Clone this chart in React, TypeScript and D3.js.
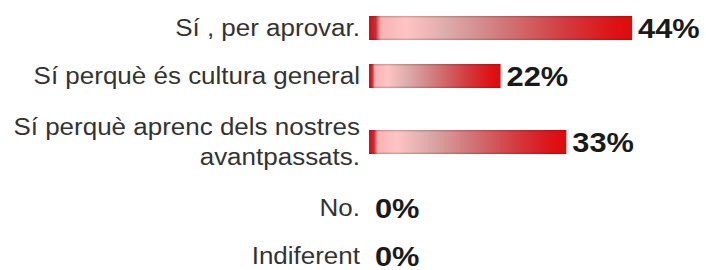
import { useEffect, useRef } from "react";
import * as d3 from "d3";

// Survey answers and their shares (percent)
const answers: string[][] = [
  ["Sí , per aprovar."],
  ["Sí perquè és cultura general"],
  ["Sí perquè aprenc dels nostres", "avantpassats."],
  ["No."],
  ["Indiferent"],
];
const shares: number[] = [44, 22, 33, 0, 0];

const W = 706;
const H = 270;
const LABEL_RIGHT = 360;
const BAR_LEFT = 369;
const ROW_H = 48;
const EXTRA_LINE_ROW = 36;
const LINE_H = 30;
const BAR_H = 24;
const TOP = 4;
const STRETCH = 1.13; // the glyphs in the original are a little wide

export default function App() {
  const svgRef = useRef<SVGSVGElement>(null);

  useEffect(() => {
    if (!svgRef.current) return;
    const svg = d3.select(svgRef.current);
    svg.selectAll("*").remove();

    const defs = svg.append("defs");
    const grad = defs
      .append("linearGradient")
      .attr("id", "barFill")
      .attr("x1", 0)
      .attr("x2", 1)
      .attr("y1", 0)
      .attr("y2", 0);
    [
      [0, "#c0141e"],
      [0.025, "#cc2a30"],
      [0.045, "#f7b3b3"],
      [0.14, "#ffc4c4"],
      [0.3, "#dcaaaa"],
      [0.5, "#d07a7c"],
      [0.75, "#d23a3e"],
      [0.92, "#dc1418"],
      [1, "#e00a0a"],
    ].forEach(([o, c]) =>
      grad.append("stop").attr("offset", o as number).attr("stop-color", c as string)
    );

    const vgrad = defs
      .append("linearGradient")
      .attr("id", "barShade")
      .attr("x1", 0)
      .attr("x2", 0)
      .attr("y1", 0)
      .attr("y2", 1);
    [
      [0, "#600000", 0.25],
      [0.1, "#600000", 0],
      [0.9, "#600000", 0],
      [1, "#600000", 0.25],
    ].forEach(([o, c, a]) =>
      vgrad
        .append("stop")
        .attr("offset", o as number)
        .attr("stop-color", c as string)
        .attr("stop-opacity", a as number)
    );

    const x = d3.scaleLinear().domain([0, 100]).range([0, 598]);

    // row layout from number of label lines
    const heights = answers.map((a) => ROW_H + (a.length - 1) * EXTRA_LINE_ROW);
    const tops = heights.map((_, i) => TOP + d3.sum(heights.slice(0, i)));

    const rows = svg
      .selectAll("g.row")
      .data(answers.map((a, i) => ({ lines: a, v: shares[i], cy: tops[i] + heights[i] / 2 })))
      .enter()
      .append("g")
      .attr("class", "row")
      .attr("transform", (d) => `translate(0,${d.cy})`);

    rows
      .append("text")
      .attr("transform", `translate(${LABEL_RIGHT},0) scale(${STRETCH},1)`)
      .attr("text-anchor", "end")
      .attr("font-family", "Liberation Sans, Arial, sans-serif")
      .attr("font-size", 23)
      .attr("fill", "#333")
      .selectAll("tspan")
      .data((d) => d.lines.map((l, j) => ({ l, dy: (j - (d.lines.length - 1) / 2) * LINE_H })))
      .enter()
      .append("tspan")
      .attr("x", 0)
      .attr("y", (t) => t.dy)
      .attr("dy", "0.35em")
      .text((t) => t.l);

    const bars = rows.filter((d) => d.v > 0);
    bars
      .append("rect")
      .attr("x", BAR_LEFT)
      .attr("y", -BAR_H / 2)
      .attr("width", (d) => x(d.v))
      .attr("height", BAR_H)
      .attr("fill", "url(#barFill)");
    bars
      .append("rect")
      .attr("x", BAR_LEFT)
      .attr("y", -BAR_H / 2)
      .attr("width", (d) => x(d.v))
      .attr("height", BAR_H)
      .attr("fill", "url(#barShade)");

    rows
      .append("text")
      .attr("transform", (d) => `translate(${BAR_LEFT + x(d.v) + 6},0) scale(1.1,1)`)
      .attr("dy", "0.36em")
      .attr("font-family", "Liberation Sans, Arial, sans-serif")
      .attr("font-weight", "bold")
      .attr("font-size", 28)
      .attr("fill", "#1a1a1a")
      .text((d) => `${d.v}%`);
  }, []);

  return (
    <svg
      ref={svgRef}
      width={W}
      height={H}
      style={{ position: "absolute", left: 0, top: 0, background: "#fff" }}
    />
  );
}
